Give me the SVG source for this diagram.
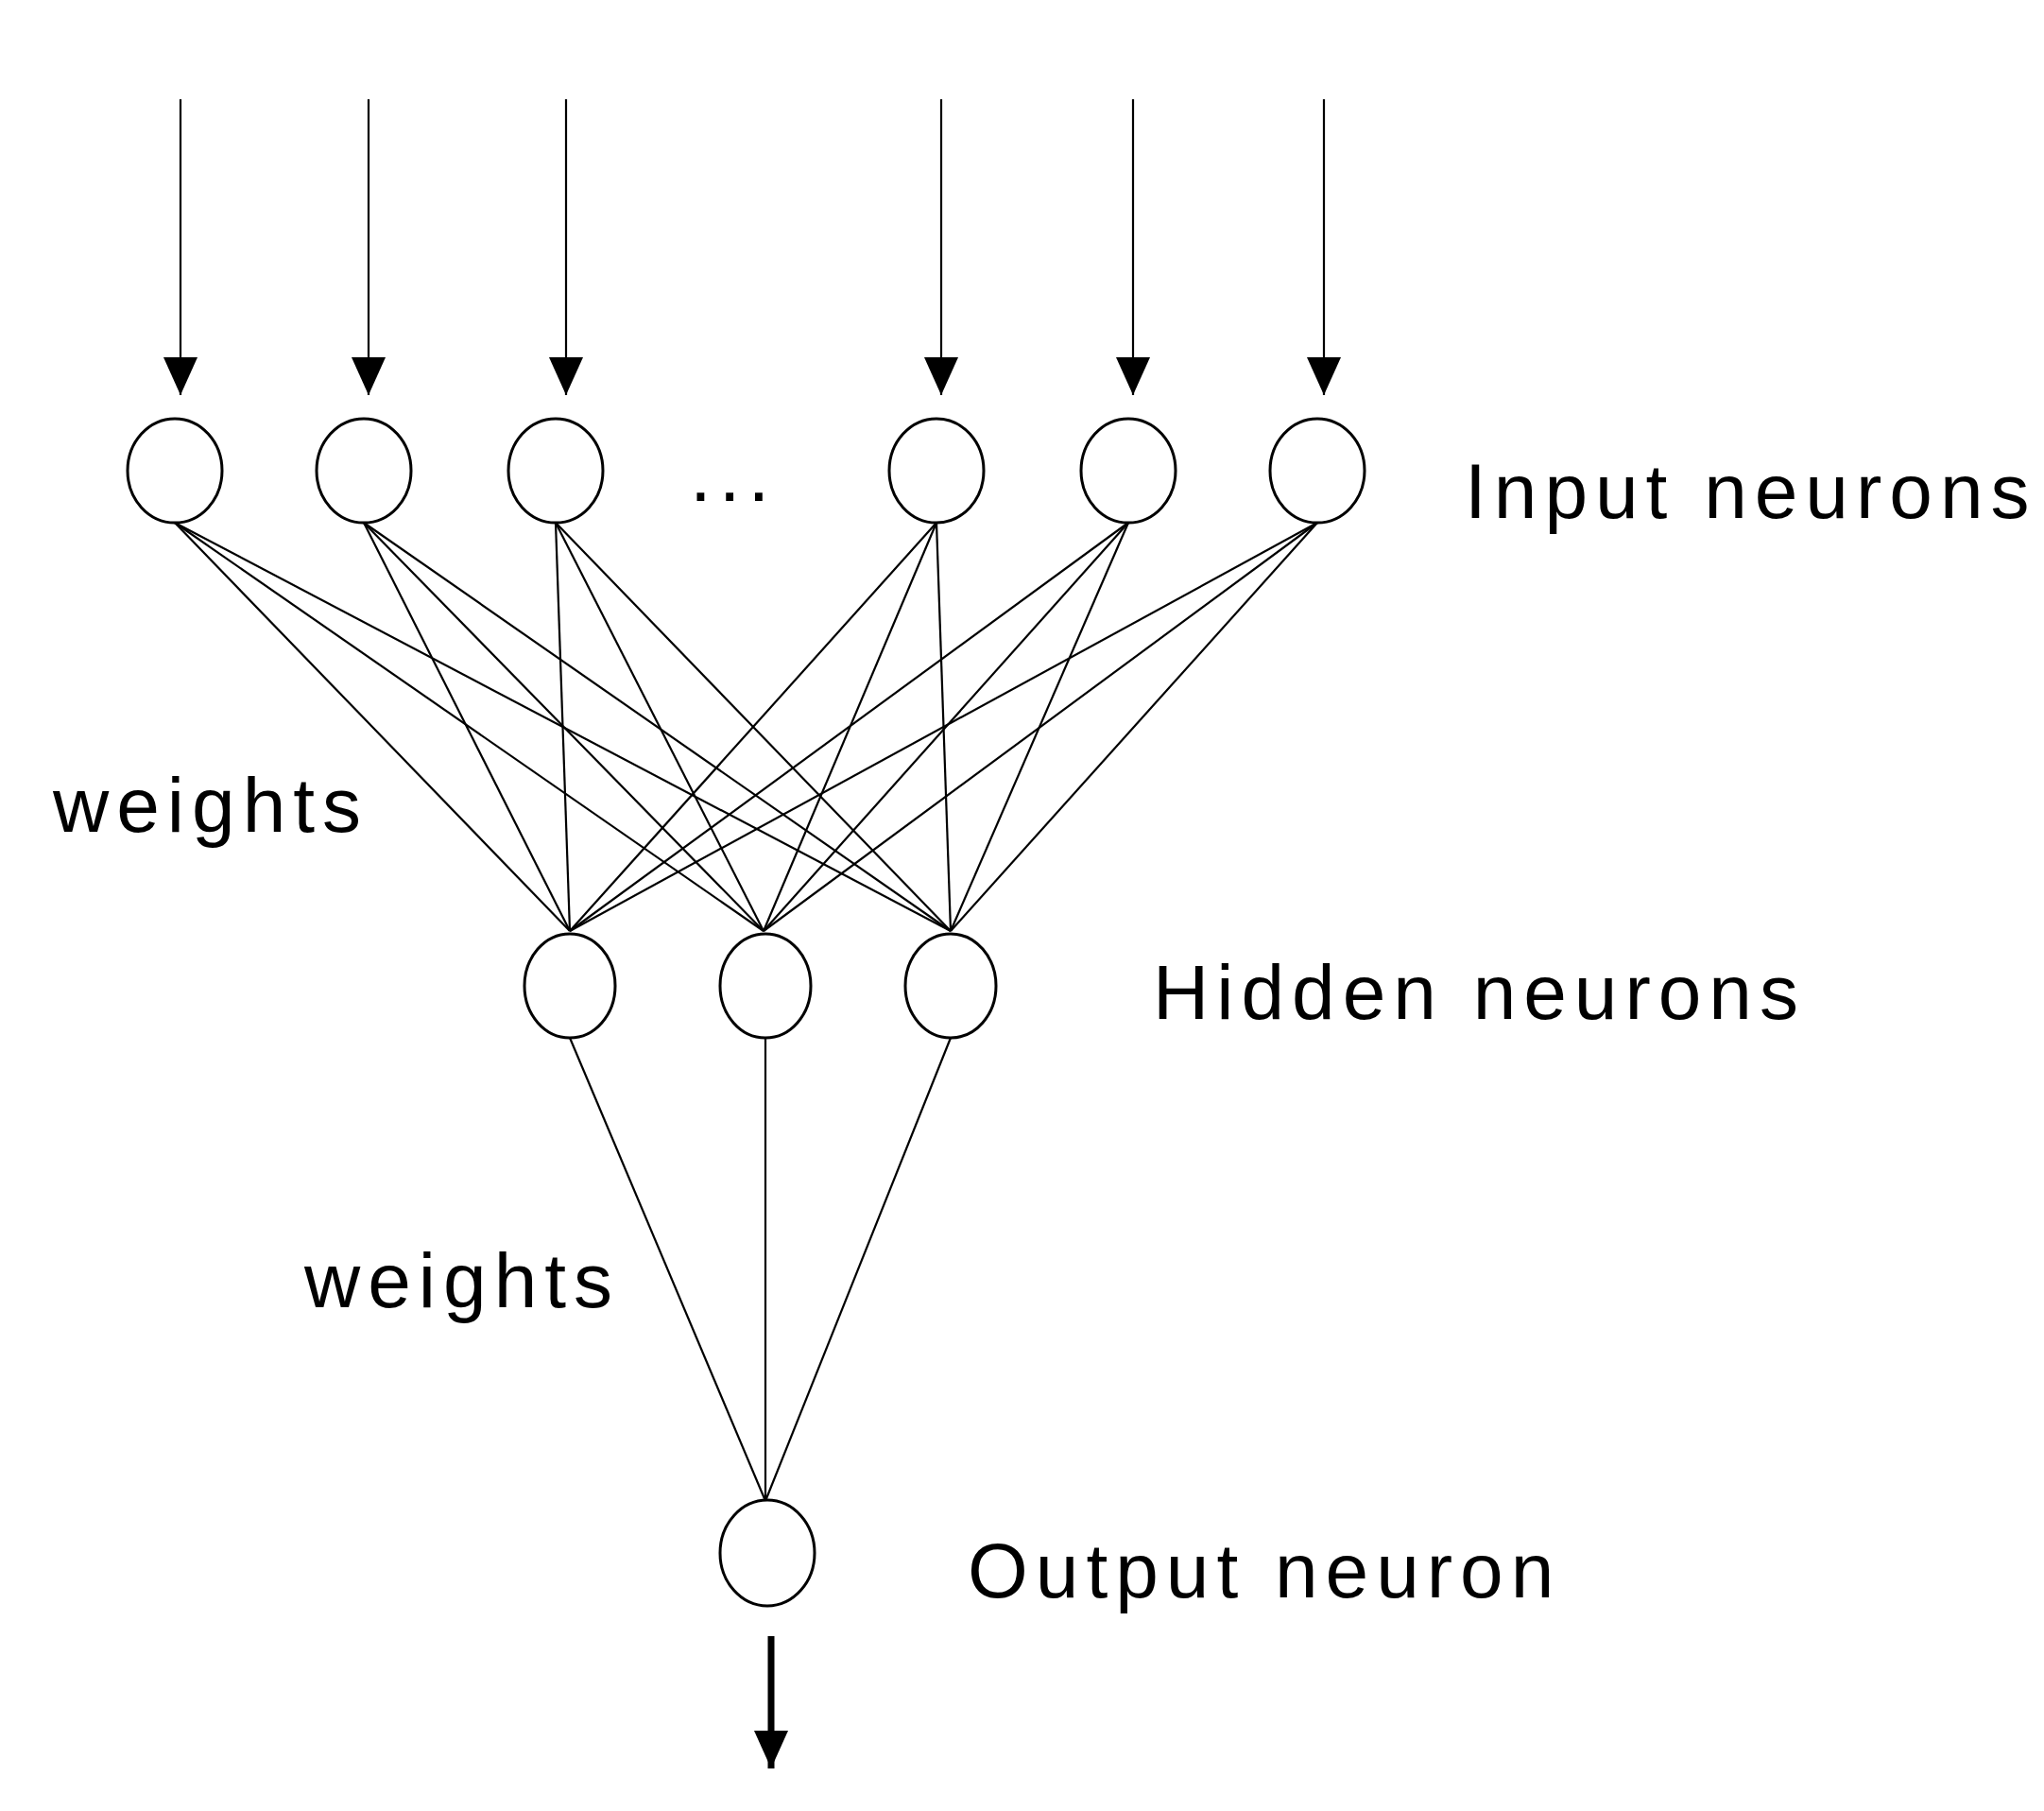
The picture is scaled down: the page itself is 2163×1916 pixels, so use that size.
<svg xmlns="http://www.w3.org/2000/svg" width="2163" height="1916" viewBox="0 0 2163 1916">
<style>
.n{fill:#fff;stroke:#000;stroke-width:3}
.c line{stroke:#000;stroke-width:2.2}
.t{font-family:"Liberation Sans",Arial,sans-serif;font-size:82px;letter-spacing:8px;fill:#000}
</style>
<defs>
<marker id="ah" markerUnits="userSpaceOnUse" markerWidth="44" markerHeight="36" refX="40" refY="18" orient="auto"><path d="M0,0 L40,18 L0,36 Z" fill="#000"/></marker>
</defs>
<rect width="2163" height="1916" fill="#fff"/>
<g class="c" id="connectors">
<line x1="191" y1="105" x2="191" y2="418" marker-end="url(#ah)"/>
<line x1="390" y1="105" x2="390" y2="418" marker-end="url(#ah)"/>
<line x1="599" y1="105" x2="599" y2="418" marker-end="url(#ah)"/>
<line x1="996" y1="105" x2="996" y2="418" marker-end="url(#ah)"/>
<line x1="1199" y1="105" x2="1199" y2="418" marker-end="url(#ah)"/>
<line x1="1401" y1="105" x2="1401" y2="418" marker-end="url(#ah)"/>
<line x1="185" y1="553" x2="603" y2="985"/><line x1="185" y1="553" x2="808" y2="985"/><line x1="185" y1="553" x2="1006" y2="985"/>
<line x1="385" y1="553" x2="603" y2="985"/><line x1="385" y1="553" x2="808" y2="985"/><line x1="385" y1="553" x2="1006" y2="985"/>
<line x1="588" y1="553" x2="603" y2="985"/><line x1="588" y1="553" x2="808" y2="985"/><line x1="588" y1="553" x2="1006" y2="985"/>
<line x1="991" y1="553" x2="603" y2="985"/><line x1="991" y1="553" x2="808" y2="985"/><line x1="991" y1="553" x2="1006" y2="985"/>
<line x1="1194" y1="553" x2="603" y2="985"/><line x1="1194" y1="553" x2="808" y2="985"/><line x1="1194" y1="553" x2="1006" y2="985"/>
<line x1="1394" y1="553" x2="603" y2="985"/><line x1="1394" y1="553" x2="808" y2="985"/><line x1="1394" y1="553" x2="1006" y2="985"/>
<line x1="603" y1="1098" x2="810" y2="1588"/><line x1="810" y1="1098" x2="810" y2="1588"/><line x1="1006" y1="1098" x2="810" y2="1588"/>
<line x1="816" y1="1731" x2="816" y2="1871" style="stroke-width:7" marker-end="url(#ah)"/>
</g>
<g id="in1"><ellipse class="n" cx="185" cy="498" rx="50" ry="55"/></g>
<g id="in2"><ellipse class="n" cx="385" cy="498" rx="50" ry="55"/></g>
<g id="in3"><ellipse class="n" cx="588" cy="498" rx="50" ry="55"/></g>
<g id="in4"><ellipse class="n" cx="991" cy="498" rx="50" ry="55"/></g>
<g id="in5"><ellipse class="n" cx="1194" cy="498" rx="50" ry="55"/></g>
<g id="in6"><ellipse class="n" cx="1394" cy="498" rx="50" ry="55"/></g>
<g id="h1"><ellipse class="n" cx="603" cy="1043" rx="48" ry="55"/></g>
<g id="h2"><ellipse class="n" cx="810" cy="1043" rx="48" ry="55"/></g>
<g id="h3"><ellipse class="n" cx="1006" cy="1043" rx="48" ry="55"/></g>
<g id="out"><ellipse class="n" cx="812" cy="1643" rx="50" ry="56"/></g>
<text class="t" x="730" y="530">...</text>
<text class="t" x="1550" y="548">Input neurons</text>
<text class="t" x="1220" y="1078">Hidden neurons</text>
<text class="t" x="56" y="880">weights</text>
<text class="t" x="322" y="1383">weights</text>
<text class="t" x="1024" y="1690">Output neuron</text>
</svg>
